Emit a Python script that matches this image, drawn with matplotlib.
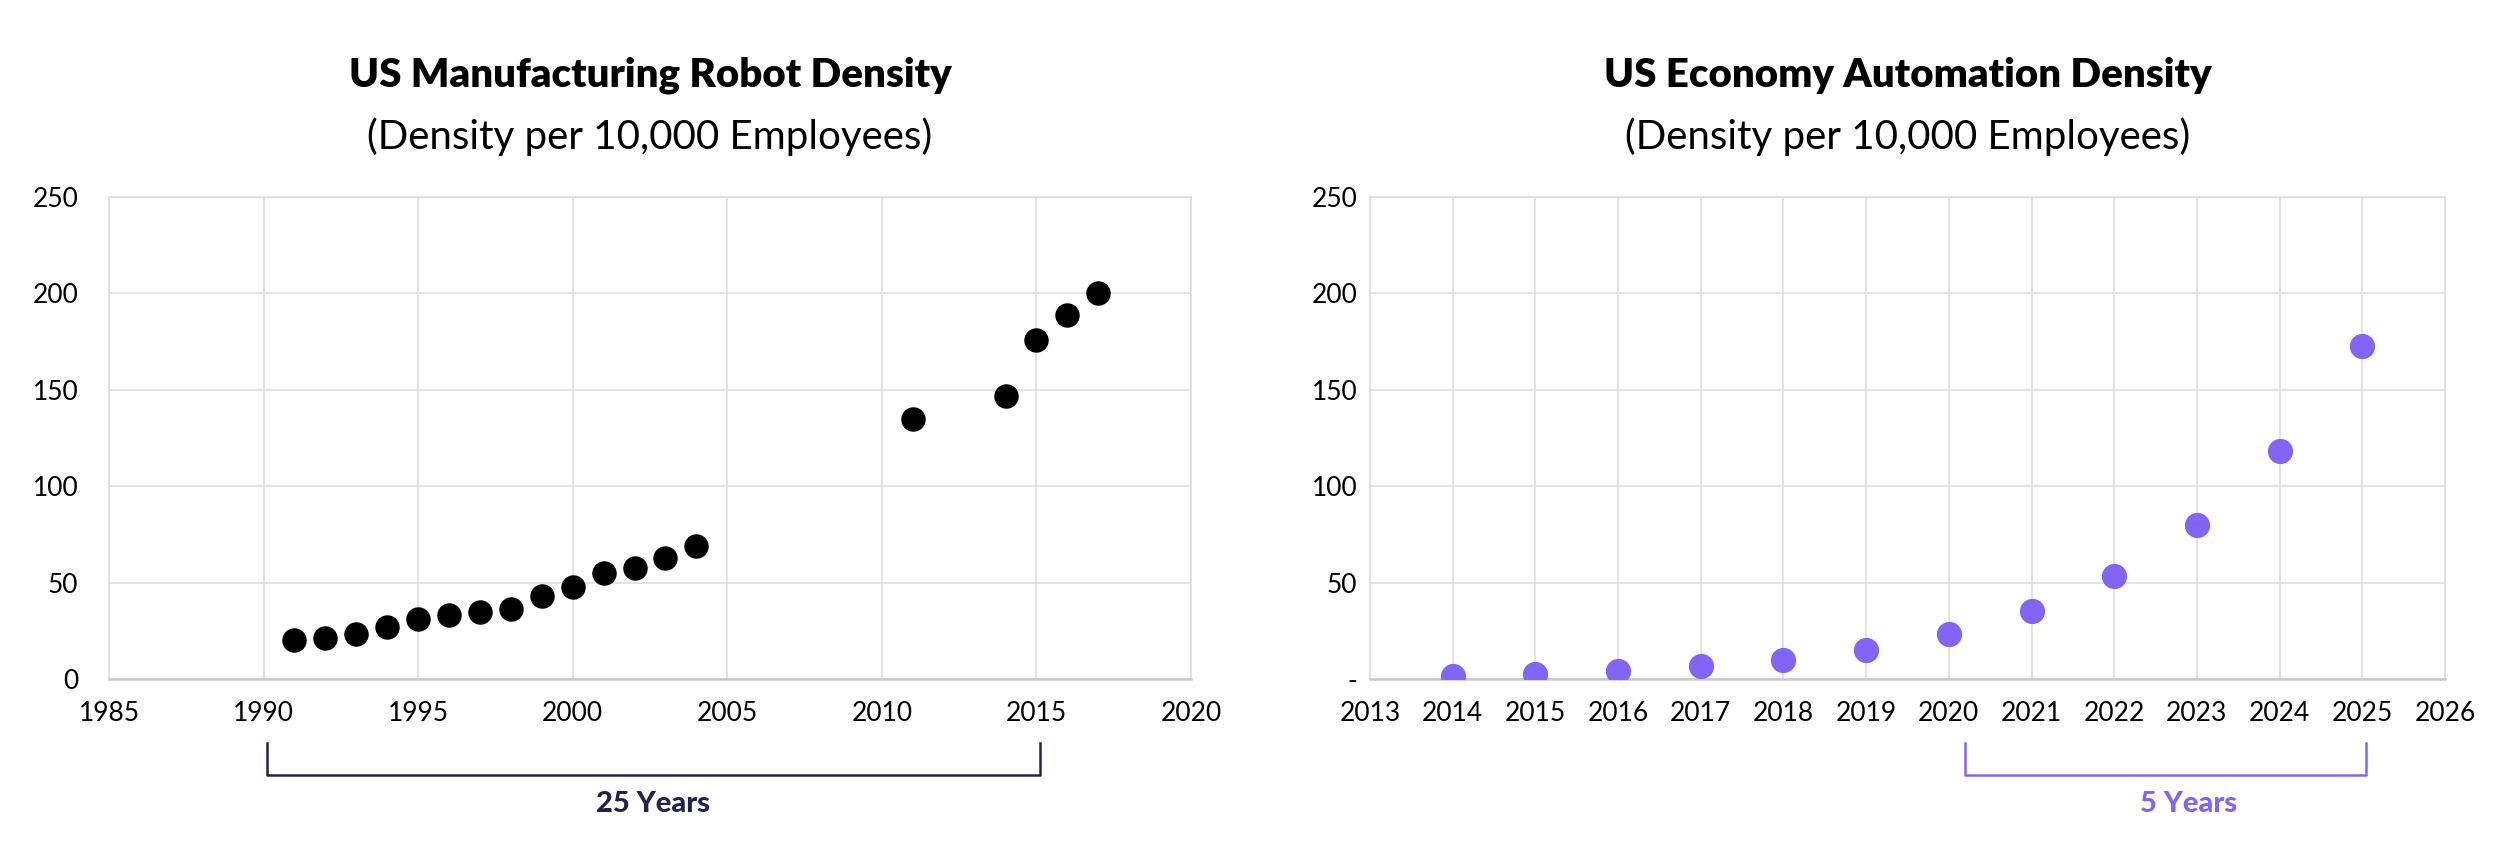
import numpy as np
import matplotlib.pyplot as plt
from matplotlib.transforms import blended_transform_factory

plt.rcParams['font.family'] = ['Lato', 'DejaVu Sans']

# left chart: US manufacturing robot density
mfg_years = [1991, 1992, 1993, 1994, 1995, 1996, 1997, 1998, 1999, 2000,
             2001, 2002, 2003, 2004, 2011, 2014, 2015, 2016, 2017]
mfg_density = [20, 21.5, 23.5, 27, 31, 33, 34.5, 36.5, 43, 47.5,
               55, 57.5, 63, 69, 135, 147, 176, 189, 200]

# right chart: US economy automation density
eco_years = [2014, 2015, 2016, 2017, 2018, 2019, 2020, 2021, 2022, 2023, 2024, 2025]
eco_density = [1.7, 2.6, 4.1, 6.5, 9.6, 15.2, 23.1, 35.5, 53.6, 80.0, 118.3, 172.6]

mfg_xticks = [1985, 1990, 1995, 2000, 2005, 2010, 2015, 2020]
eco_xticks = list(range(2013, 2027))
yticks = [0, 50, 100, 150, 200, 250]

navy = '#23214d'
purple = '#8265f6'
grid_c = '#dedede'

W, H = 2506, 866
fig = plt.figure(figsize=(W / 100, H / 100), dpi=100)

ax1 = fig.add_axes([109 / W, 1 - 679 / H, 1082 / W, 482 / H])
ax2 = fig.add_axes([1370 / W, 1 - 679 / H, 1075 / W, 482 / H])


def style(ax, xlim, xticks, ylabels, ypad):
    ax.set_xlim(*xlim)
    ax.set_ylim(0, 250)
    ax.set_xticks(xticks)
    ax.set_yticks(yticks)
    ax.set_yticklabels(ylabels)
    ax.grid(True, color=grid_c, linewidth=1.2)
    ax.set_axisbelow(True)
    for s in ax.spines.values():
        s.set_color(grid_c)
        s.set_linewidth(1.2)
    ax.spines['bottom'].set_color('#c8c8c8')
    ax.spines['bottom'].set_linewidth(1.8)
    ax.tick_params(axis='x', length=0, pad=16, labelsize=19)
    ax.tick_params(axis='y', length=0, pad=ypad, labelsize=19)


style(ax1, (1985, 2020), mfg_xticks, [str(v) for v in yticks], 22)
style(ax2, (2013, 2026), eco_xticks, ['-'] + [str(v) for v in yticks[1:]], 9)

ax1.scatter(mfg_years, mfg_density, s=310, color='black', zorder=3, linewidths=0)
ax2.scatter(eco_years, eco_density, s=330, color=purple, zorder=3, linewidths=0)

# titles
for ax, title in [(ax1, 'US Manufacturing Robot Density'),
                  (ax2, 'US Economy Automation Density')]:
    pos = ax.get_position()
    cx = (pos.x0 + pos.x1) / 2
    fig.text(cx, 1 - 75 / H, title, ha='center', va='center',
             fontsize=29, fontweight='heavy')
    fig.text(cx, 1 - 137 / H, '(Density per 10,000 Employees)', ha='center',
             va='center', fontsize=29)


# brackets under the x axes
def bracket(ax, x0, x1, label, color, tx):
    tr = blended_transform_factory(ax.transData, ax.transAxes)
    ax.plot([x0, x0, x1, x1], [-0.133, -0.199, -0.199, -0.133], color=color,
            linewidth=1.8, transform=tr, clip_on=False, solid_joinstyle='round')
    ax.text(tx, -0.26, label, transform=tr, ha='center', va='center',
            fontsize=21, fontweight='black', color=color)


bracket(ax1, 1990.1, 2015.1, '25 Years', navy, 2002.6)
bracket(ax2, 2020.2, 2025.05, '5 Years', purple, 2022.9)

fig.savefig('out.png', dpi=100, facecolor='white')
